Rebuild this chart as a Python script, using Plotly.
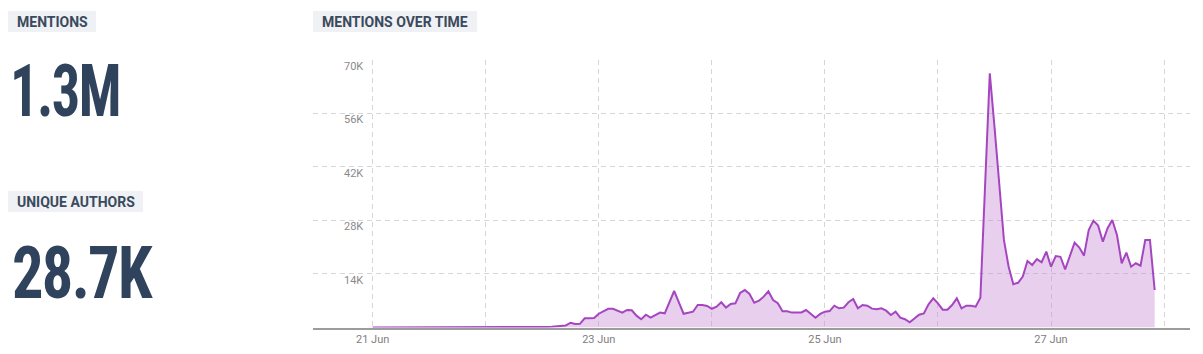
import plotly.graph_objects as go
import pandas as pd

# ---------------- data ----------------
start_time = "2023-06-21 00:00"
mentions_hourly = (
    [0] * 34 +
    [50, 80, 100, 150, 200, 300, 400, 550,
     1250, 900, 950, 2400, 2450, 2500, 3600, 4300, 4900, 4900,
     4400, 3900, 4600, 4500, 3100, 2150, 3350, 2570, 3250, 3900,
     3700, 6600, 9550, 6600, 3600, 3870, 4130, 5900, 5900, 5630,
     4900, 5450, 6600, 5200, 6150, 6330, 9030, 9800, 8770, 6500,
     7000, 8070, 9470, 7200, 6330, 4240, 4240, 3900, 3950, 3950,
     4580, 3450, 2570, 3550, 4140, 4300, 5700, 5020, 5200, 6600,
     7460, 5020, 5890, 5700, 4930, 4750, 5020, 4400, 3270, 4140,
     2570, 2150, 1360, 2330, 3350, 3700, 6070, 7630, 6330, 4660,
     4660, 5890, 7630, 5020, 5700, 5700, 5450, 7800, 37000, 66500,
     52500, 37700, 22900, 15900, 11300, 11700, 13300, 17400, 16350, 17900,
     17060, 19840, 15900, 18700, 18500, 15200, 18500, 22200, 20900, 18800,
     25500, 27950, 26650, 22450, 25950, 28130, 24200, 16800, 19580, 15900,
     16800, 16170, 22900, 22900, 9800]
)
y_tick_values = [14000, 28000, 42000, 56000, 70000]
y_tick_labels = ["14K", "28K", "42K", "56K", "70K"]
x_tick_dates = ["2023-06-21", "2023-06-22", "2023-06-23", "2023-06-24",
                "2023-06-25", "2023-06-26", "2023-06-27", "2023-06-28"]
x_tick_labels = ["21 Jun", "", "23 Jun", "", "25 Jun", "", "27 Jun", ""]
x_range = ["2023-06-20 11:20", "2023-06-28 05:30"]
kpi_labels = ["MENTIONS", "UNIQUE AUTHORS"]
kpi_values = ["1.3M", "28.7K"]
chart_title = "MENTIONS OVER TIME"

times = pd.date_range(start=start_time, periods=len(mentions_hourly), freq="h")

W, H = 1203, 354
def px(x):
    return x / W
def py(y):
    return 1 - y / H

fig = go.Figure()
fig.add_trace(go.Scatter(
    x=times, y=mentions_hourly, mode="lines",
    line=dict(color="#a546c0", width=2),
    fill="tozeroy", fillcolor="rgba(200,140,215,0.42)",
    hoverinfo="skip", showlegend=False,
))

label_color = "#3a4a5c"
box_fill = "#eff1f4"
shapes = []
annotations = []

# label boxes
boxes = [
    (8, 96, 11, 32, kpi_labels[0]),
    (8, 143, 191, 212, kpi_labels[1]),
    (313, 477, 11, 32, chart_title),
]
for x0, x1, y0, y1, txt in boxes:
    shapes.append(dict(type="rect", xref="paper", yref="paper",
                       x0=px(x0), x1=px(x1), y0=py(y1), y1=py(y0),
                       fillcolor=box_fill, line=dict(width=0), layer="below"))
    annotations.append(dict(xref="paper", yref="paper", x=px(x0 + 7), y=py((y0 + y1) / 2),
                            xanchor="left", yanchor="middle", showarrow=False,
                            text="<b>" + txt + "</b>",
                            font=dict(family="Roboto", size=14, color=label_color)))

# big numbers
for (xv, yv), val in zip([(8, 91), (10, 273)], kpi_values):
    annotations.append(dict(xref="paper", yref="paper", x=px(xv), y=py(yv),
                            xanchor="left", yanchor="middle", showarrow=False,
                            text='<span style="letter-spacing:-2px">' + val + "</span>",
                            font=dict(family="Roboto Condensed, Roboto", size=73,
                                      color="#2f435c", weight="bold")))

fig.update_layout(
    width=W, height=H,
    margin=dict(l=0, r=0, t=0, b=0),
    paper_bgcolor="white", plot_bgcolor="white",
    shapes=shapes, annotations=annotations,
    font=dict(family="Roboto"),
    xaxis=dict(
        domain=[px(313), px(1190)],
        range=x_range, type="date",
        tickvals=x_tick_dates, ticktext=x_tick_labels,
        showgrid=True, gridcolor="#d6d6d6", griddash="5px,4px", gridwidth=1,
        showline=True, linecolor="#9c9c9c", linewidth=2,
        ticks="", tickfont=dict(size=11, color="#808080"),
        zeroline=False, fixedrange=True,
    ),
    yaxis=dict(
        domain=[py(327.5), py(59.5)],
        range=[0, 70100],
        tickvals=y_tick_values, ticktext=y_tick_labels,
        showgrid=True, gridcolor="#d6d6d6", griddash="5px,4px", gridwidth=1,
        ticks="", ticklabelposition="inside", ticklabeloverflow="allow",
        ticklabelstandoff=28, ticklabelshift=6,
        tickfont=dict(size=11, color="#8a8a8a"),
        zeroline=False, showline=False, fixedrange=True,
    ),
)

# condense the big KPI numbers horizontally to the narrow look of the original
post_js = """
var gd = document.getElementById('{plot_id}');
var targets = {'1.3M': 110, '28.7K': 141};
gd.querySelectorAll('.annotation-text').forEach(function(t){
  var key = t.textContent.trim();
  if (targets[key]) {
    var b = t.getBBox();
    var s = targets[key] / b.width;
    t.setAttribute('transform', 'translate(' + b.x + ',0) scale(' + s + ',1) translate(' + (-b.x) + ',0)');
  }
});
"""

fig.write_html("out.html", post_script=post_js)
